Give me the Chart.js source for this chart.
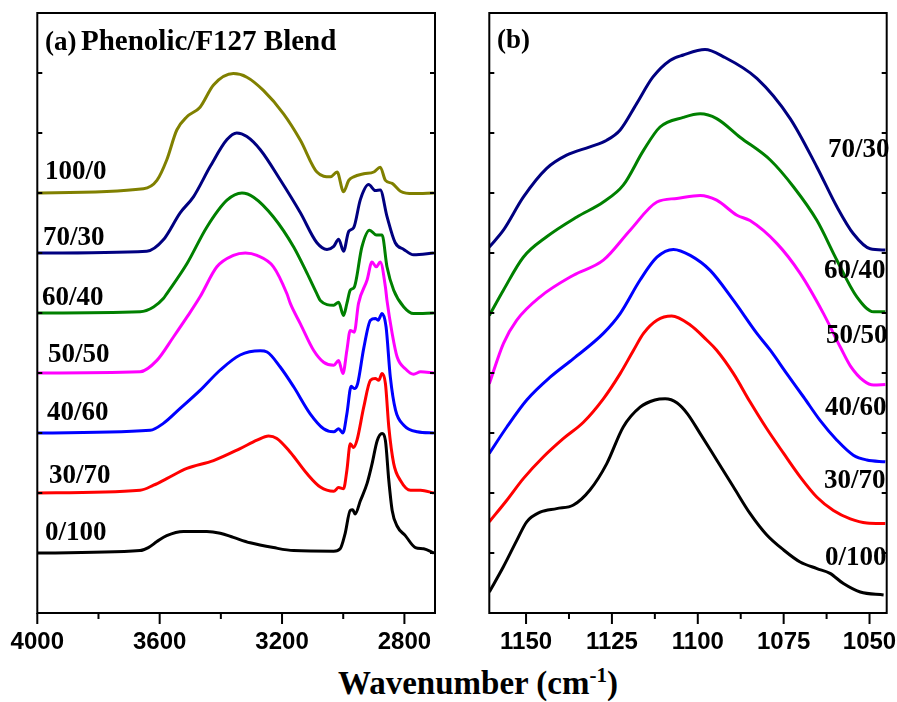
<!DOCTYPE html>
<html>
<head>
<meta charset="utf-8">
<script src="https://cdn.jsdelivr.net/npm/chart.js@4.4.1/dist/chart.umd.min.js"></script>
<style>
  html, body { margin: 0; padding: 0; background: #fff; overflow: hidden; width: 897px; height: 702px; }
  .wrap { position: absolute; top: 0; }
  #wrapA { left: 0; }
  #wrapB { left: 450px; }
  #xtitle { position: absolute; left: 0; width: 956px; top: 665px; text-align: center;
            font: bold 33px "Liberation Serif", "Times New Roman", serif; color: #000; }
  #xtitle sup { font-size: 21px; vertical-align: 12px; line-height: 0; }
</style>
</head>
<body>
<div class="wrap" id="wrapA"><canvas id="chartA" width="450" height="660"></canvas></div>
<div class="wrap" id="wrapB"><canvas id="chartB" width="460" height="660"></canvas></div>
<div id="xtitle">Wavenumber (cm<sup>-1</sup>)</div>
<script>
// --- panel (a): 4000-2700 cm-1, [wavenumber, absorbance] before stacking ---
const blendsA = ['0/100', '30/70', '40/60', '50/50', '60/40', '70/30', '100/0'];
const colorsA = ['#000000', '#ff0000', '#0000ff', '#ff00ff', '#008000', '#000080', '#808000'];
const offsetsA = [1, 2, 3, 4, 5, 6, 7];

const spec0_100 = [[4000,0],[3664,0.04],[3637,0.09],[3609,0.19],[3577,0.29],[3522,0.36],[3446,0.36],[3402,0.33],[3359,0.26],[3304,0.17],[3228,0.09],[3162,0.04],[3031,0.03],[3010,0.07],[2994,0.32],[2977,0.71],[2969,0.72],[2961,0.65],[2944,0.87],[2922,1.16],[2906,1.48],[2889,1.87],[2873,1.99],[2862,1.87],[2851,1.21],[2840,0.71],[2824,0.45],[2797,0.29],[2764,0.09],[2737,0.07],[2704,0]];
const spec30_70 = [[4000,0],[3664,0.045],[3620,0.13],[3577,0.24],[3511,0.41],[3424,0.54],[3337,0.74],[3282,0.88],[3244,0.95],[3217,0.91],[3173,0.68],[3118,0.32],[3075,0.10],[3031,0.03],[3015,0.09],[2999,0.07],[2988,0.38],[2977,0.82],[2966,0.76],[2955,0.88],[2933,1.43],[2911,1.88],[2895,1.91],[2884,1.88],[2873,1.99],[2862,1.82],[2851,1.10],[2835,0.49],[2813,0.21],[2780,0.045],[2747,0.045],[2704,0]];
const spec40_60 = [[4000,0],[3631,0.045],[3588,0.16],[3533,0.41],[3468,0.71],[3402,1.05],[3337,1.30],[3271,1.37],[3249,1.35],[3206,1.10],[3162,0.77],[3108,0.32],[3064,0.07],[3031,0.02],[3015,0.07],[3001,0],[2988,0.32],[2974,0.78],[2964,0.74],[2953,0.82],[2933,1.41],[2911,1.88],[2895,1.91],[2886,1.88],[2873,1.99],[2860,1.77],[2846,0.93],[2829,0.38],[2802,0.13],[2758,0.02],[2704,0]];
const spec50_50 = [[4000,0],[3664,0.02],[3609,0.21],[3555,0.60],[3511,0.93],[3468,1.27],[3413,1.77],[3359,1.96],[3320,2.0],[3282,1.96],[3228,1.77],[3184,1.32],[3173,1.16],[3140,0.82],[3097,0.38],[3064,0.18],[3031,0.13],[3015,0.21],[3001,-0.01],[2988,0.38],[2977,0.71],[2964,0.68],[2950,1.16],[2922,1.55],[2906,1.85],[2892,1.77],[2879,1.85],[2862,1.43],[2857,1.21],[2840,0.66],[2824,0.27],[2797,0.07],[2770,-0.02],[2747,0.02],[2704,0]];
const spec60_40 = [[4000,0],[3664,0.02],[3620,0.10],[3588,0.24],[3577,0.32],[3511,0.82],[3446,1.43],[3380,1.88],[3331,2.0],[3293,1.93],[3228,1.6],[3162,1.1],[3118,0.66],[3086,0.32],[3075,0.21],[3031,0.13],[3015,0.18],[2999,-0.04],[2988,0.16],[2977,0.38],[2964,0.43],[2939,1.1],[2914,1.38],[2892,1.3],[2873,1.3],[2857,0.77],[2835,0.38],[2802,0.10],[2770,-0.01],[2704,0]];
const spec70_30 = [[4000,0],[3642,0.03],[3588,0.22],[3533,0.67],[3489,0.94],[3435,1.44],[3380,1.89],[3348,2.0],[3315,1.94],[3271,1.72],[3206,1.22],[3140,0.67],[3086,0.17],[3053,0.06],[3031,0.11],[3015,0.23],[2999,0.03],[2982,0.36],[2966,0.42],[2944,0.89],[2917,1.14],[2895,1.04],[2879,1.05],[2857,0.61],[2830,0.17],[2802,0.06],[2770,-0.03],[2704,0]];
const spec100_0 = [[4000,0],[3653,0.07],[3609,0.21],[3577,0.55],[3544,1.05],[3511,1.27],[3468,1.43],[3424,1.8],[3359,1.99],[3315,1.93],[3261,1.71],[3195,1.32],[3140,0.88],[3086,0.35],[3042,0.27],[3020,0.35],[2999,0.02],[2982,0.21],[2966,0.27],[2933,0.32],[2900,0.35],[2879,0.43],[2862,0.21],[2840,0.16],[2813,0.03],[2770,-0.01],[2704,0]];
const spectraA = [spec0_100, spec30_70, spec40_60, spec50_50, spec60_40, spec70_30, spec100_0];

const majorA = [4000, 3600, 3200, 2800];
const minorA = [3800, 3400, 3000];

// --- panel (b): 1160-1045 cm-1, stacked values as drawn ---
const blendsB = ['0/100', '30/70', '40/60', '50/50', '60/40', '70/30'];
const colorsB = ['#000000', '#ff0000', '#0000ff', '#ff00ff', '#008000', '#000080'];

const specB0_100 = [[1160.7,0.35],[1156.6,0.77],[1152.7,1.21],[1149.8,1.52],[1145.9,1.68],[1141.1,1.74],[1136.2,1.80],[1131.4,2.05],[1126.5,2.49],[1121.7,3.10],[1116.8,3.43],[1112.5,3.55],[1109.5,3.57],[1106,3.50],[1103,3.32],[1099.3,2.99],[1094.5,2.55],[1089.6,2.10],[1084.8,1.66],[1079.9,1.30],[1075.0,1.05],[1070.2,0.85],[1065.3,0.74],[1061.5,0.66],[1057.6,0.49],[1052.7,0.35],[1045.9,0.30]];
const specB30_70 = [[1160.7,1.52],[1155.6,1.88],[1150.8,2.24],[1145,2.60],[1139.1,2.91],[1133.3,3.18],[1127.5,3.57],[1122.6,3.99],[1118.7,4.38],[1115.8,4.66],[1111.9,4.88],[1107.6,4.95],[1102.2,4.80],[1097.4,4.55],[1094.5,4.38],[1089.6,3.99],[1084.8,3.52],[1079.9,3.07],[1075,2.66],[1070.2,2.27],[1065.3,1.93],[1060.5,1.71],[1055.6,1.57],[1050.8,1.50],[1045.4,1.49]];
const specB40_60 = [[1160.7,2.66],[1155.6,3.10],[1149.8,3.55],[1143,3.93],[1136.2,4.24],[1127.5,4.66],[1122.6,4.99],[1116.8,5.55],[1111.9,5.93],[1107.1,6.06],[1102.2,5.96],[1096.4,5.71],[1089.6,5.21],[1082.8,4.66],[1078.9,4.38],[1074.1,3.99],[1069.2,3.60],[1064.4,3.21],[1059.5,2.88],[1054.7,2.63],[1050.8,2.55],[1045.4,2.52]];
const specB50_50 = [[1160.7,3.82],[1156.6,4.49],[1152.7,4.88],[1145.9,5.27],[1136.2,5.63],[1127.5,5.88],[1119.7,6.38],[1111.9,6.85],[1106.1,6.91],[1099.3,6.96],[1094.5,6.88],[1088.6,6.63],[1084.8,6.54],[1077,6.16],[1070.2,5.66],[1063.4,4.99],[1058.4,4.42],[1055.6,4.12],[1051.7,3.87],[1048.8,3.80],[1045.4,3.81]];
const specB60_40 = [[1160.7,4.96],[1156.6,5.38],[1150.8,5.93],[1144,6.27],[1135.2,6.60],[1127.5,6.85],[1121.7,7.13],[1115.8,7.71],[1111,8.10],[1104.2,8.26],[1099.3,8.32],[1094.5,8.24],[1087.7,7.93],[1078.9,7.55],[1072.1,7.10],[1065.3,6.54],[1059.5,5.88],[1053.7,5.27],[1048.8,5.02],[1045.4,5.02]];
const specB70_30 = [[1160.7,6.10],[1156.6,6.38],[1150.8,6.93],[1144,7.41],[1138.2,7.63],[1131.4,7.77],[1126.5,7.88],[1122.6,8.05],[1117.8,8.49],[1113.1,8.93],[1108.1,9.21],[1104.2,9.30],[1097.9,9.39],[1092.5,9.27],[1082.8,8.91],[1073.1,8.24],[1065.3,7.43],[1059.5,6.77],[1054.7,6.32],[1049.8,6.07],[1045.4,6.05]];
const spectraB = [specB0_100, specB30_70, specB40_60, specB50_50, specB60_40, specB70_30];

const majorB = [1150, 1125, 1100, 1075, 1050];
const minorB = [1137.5, 1112.5, 1087.5, 1062.5];

const yTicks = [1, 2, 3, 4, 5, 6, 7, 8, 9];

const serif = '"Liberation Serif", "Times New Roman", serif';
const sans = '"Liberation Sans", Arial, sans-serif';

// frame, inward y ticks, outward x ticks (major + minor), text labels
const framePlugin = {
    id: 'frame',
    afterDraw(chart, args, opts) {
        const { ctx, chartArea: a, scales: { x, y } } = chart;
        ctx.save();
        ctx.strokeStyle = '#000';
        ctx.lineWidth = 2;
        ctx.strokeRect(a.left, a.top, a.width, a.height);
        ctx.beginPath();
        opts.major.forEach(v => {
            const px = x.getPixelForValue(v);
            ctx.moveTo(px, a.bottom); ctx.lineTo(px, a.bottom + 11);
        });
        opts.minor.forEach(v => {
            const px = x.getPixelForValue(v);
            ctx.moveTo(px, a.bottom); ctx.lineTo(px, a.bottom + 6);
        });
        yTicks.forEach(v => {
            const py = y.getPixelForValue(v);
            ctx.moveTo(a.left, py); ctx.lineTo(a.left + 5, py);
            ctx.moveTo(a.right, py); ctx.lineTo(a.right - 5, py);
        });
        ctx.stroke();
        ctx.fillStyle = '#000';
        ctx.textBaseline = 'alphabetic';
        opts.labels.forEach(l => {
            ctx.font = 'bold ' + (l.size || 27) + 'px ' + serif;
            ctx.fillText(l.text, l.x, l.y);
        });
        ctx.restore();
    }
};

function makeDatasets(spectra, colors, names, offsets) {
    return spectra.map((s, i) => ({
        label: names[i],
        data: s.map(p => ({ x: p[0], y: p[1] + (offsets ? offsets[i] : 0) })),
        borderColor: colors[i],
        borderWidth: 3,
        pointRadius: 0,
        fill: false,
        cubicInterpolationMode: 'monotone'
    }));
}

function makeOptions(min, max, major, minor, padding, labels) {
    return {
        responsive: false,
        animation: false,
        devicePixelRatio: 1,
        layout: { padding: padding },
        plugins: {
            legend: { display: false },
            tooltip: { enabled: false },
            frame: { major: major, minor: minor, labels: labels }
        },
        scales: {
            x: {
                type: 'linear',
                reverse: true,
                min: min,
                max: max,
                afterBuildTicks: s => { s.ticks = major.map(v => ({ value: v })); },
                afterFit: s => { s.height = 40; },
                grid: { display: false, drawTicks: true, tickLength: 11 },
                border: { display: false },
                ticks: {
                    color: '#000',
                    padding: 4,
                    maxRotation: 0,
                    autoSkip: false,
                    font: { family: sans, weight: 'bold', size: 24 },
                    callback: v => String(v)
                }
            },
            y: { display: false, min: 0, max: 10 }
        }
    };
}

const labelsA = [
    { text: '(a)', x: 45, y: 50 },
    { text: 'Phenolic/F127 Blend', x: 81, y: 50, size: 29 },
    { text: '100/0', x: 45, y: 179 },
    { text: '70/30', x: 43, y: 245 },
    { text: '60/40', x: 42, y: 305 },
    { text: '50/50', x: 48, y: 362 },
    { text: '40/60', x: 47, y: 420 },
    { text: '30/70', x: 49, y: 483 },
    { text: '0/100', x: 45, y: 540 }
];
const labelsB = [
    { text: '(b)', x: 47, y: 48 },
    { text: '70/30', x: 378, y: 157 },
    { text: '60/40', x: 374, y: 278 },
    { text: '50/50', x: 376, y: 343 },
    { text: '40/60', x: 375, y: 415 },
    { text: '30/70', x: 374, y: 488 },
    { text: '0/100', x: 375, y: 565 }
];

new Chart(document.getElementById('chartA'), {
    type: 'line',
    data: { datasets: makeDatasets(spectraA, colorsA, blendsA, offsetsA) },
    options: makeOptions(2700, 4000, majorA, minorA, { left: 37.3, right: 15, top: 13, bottom: 7 }, labelsA),
    plugins: [framePlugin]
});

new Chart(document.getElementById('chartB'), {
    type: 'line',
    data: { datasets: makeDatasets(spectraB, colorsB, blendsB, null) },
    options: makeOptions(1045, 1160.7, majorB, minorB, { left: 39.3, right: 23.3, top: 13, bottom: 7 }, labelsB),
    plugins: [framePlugin]
});
</script>
</body>
</html>
